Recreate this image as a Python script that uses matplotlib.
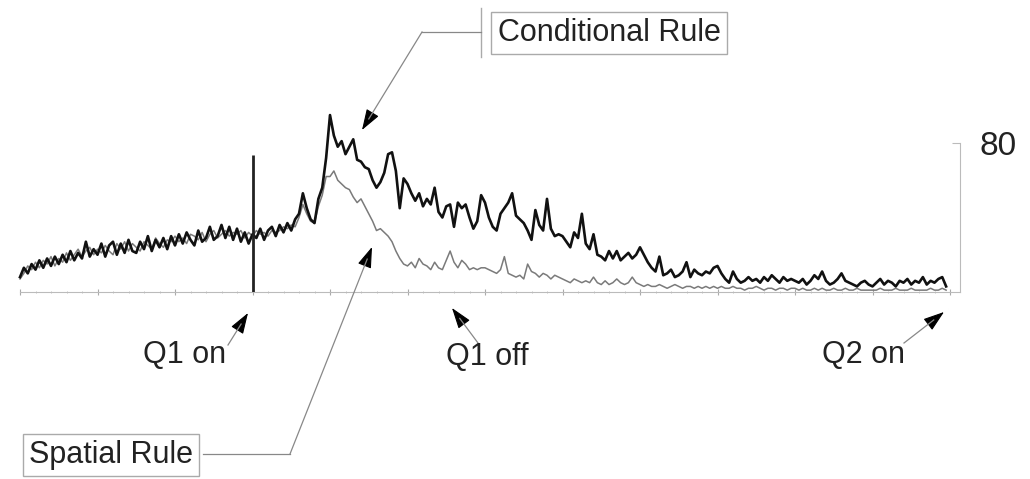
#---Conditional vs spatial rule activity trace with annotated events
import numpy as np
import matplotlib.pyplot as plt
from matplotlib.lines import Line2D

plt.rcParams['font.family'] = ['Liberation Sans', 'DejaVu Sans']

#---Data: one value every half step, one row per major tick interval
conditional_rule = [
    8, 13, 10, 15, 12, 17, 13, 18, 14, 19, 15, 20, 16, 22, 17, 21, 18, 27, 19, 23,
    20, 26, 19, 25, 27, 20, 26, 21, 28, 22, 21, 27, 23, 30, 22, 28, 24, 29, 23, 30,
    25, 31, 26, 32, 28, 25, 33, 27, 29, 35, 28, 30, 36, 29, 35, 28, 34, 27, 32, 26,
    31, 29, 34, 28, 33, 35, 30, 36, 32, 37, 33, 39, 42, 53, 45, 39, 37, 50, 56, 72,
    95, 84, 78, 81, 74, 78, 82, 71, 70, 67, 66, 60, 56, 59, 64, 74, 75, 65, 45, 61,
    58, 53, 49, 53, 46, 50, 47, 56, 43, 40, 46, 47, 35, 48, 45, 47, 40, 34, 38, 52,
    48, 40, 35, 33, 42, 45, 48, 53, 41, 39, 37, 33, 28, 44, 36, 33, 50, 34, 30, 31,
    30, 27, 24, 32, 29, 42, 26, 23, 31, 20, 19, 17, 22, 18, 22, 17, 19, 21, 18, 20,
    24, 20, 16, 13, 11, 19, 9, 10, 12, 8, 9, 11, 16, 8, 12, 10, 9, 11, 10, 13,
    14, 10, 7, 5, 11, 7, 5, 6, 8, 6, 7, 5, 8, 6, 9, 7, 5, 8, 6, 7,
    6, 5, 7, 4, 6, 9, 7, 11, 6, 4, 5, 7, 10, 6, 5, 4, 3, 5, 6, 4,
    3, 5, 7, 4, 6, 5, 3, 6, 5, 7, 4, 6, 5, 8, 4, 6, 5, 7, 8, 3,
]
spatial_rule = [
    7, 10, 14, 12, 16, 13, 17, 15, 19, 14, 18, 16, 21, 17, 20, 23, 19, 22, 24, 20,
    23, 21, 25, 22, 20, 26, 23, 27, 22, 26, 24, 22, 27, 25, 23, 29, 26, 24, 28, 27,
    30, 27, 29, 26, 31, 30, 28, 32, 27, 31, 33, 29, 31, 33, 30, 32, 31, 33, 29, 32,
    30, 33, 31, 32, 30, 33, 32, 33, 35, 34, 36, 35, 40, 47, 42, 38, 37, 46, 52, 62,
    62, 65, 60, 58, 56, 55, 51, 48, 50, 46, 42, 38, 33, 34, 32, 30, 27, 22, 18, 15,
    14, 16, 13, 18, 15, 14, 12, 16, 13, 12, 17, 22, 16, 13, 17, 15, 12, 13, 12, 13,
    13, 12, 11, 10, 12, 19, 10, 9, 8, 9, 7, 15, 11, 10, 8, 10, 9, 7, 9, 8,
    7, 6, 5, 7, 6, 5, 6, 5, 8, 5, 4, 6, 4, 5, 7, 5, 4, 5, 8, 5,
    4, 3, 4, 3, 3, 4, 3, 2, 3, 4, 3, 2, 3, 3, 2, 3, 2, 3, 2, 3,
    2, 3, 2, 2, 3, 2, 2, 1, 2, 2, 3, 2, 1, 2, 2, 1, 2, 2, 1, 2,
    2, 1, 2, 1, 1, 2, 1, 2, 1, 1, 2, 1, 1, 2, 1, 1, 2, 1, 1, 1,
    1, 1, 2, 1, 1, 1, 2, 1, 1, 1, 2, 1, 1, 1, 1, 2, 1, 1, 2, 1,
]
time = np.arange(len(conditional_rule)) * 0.5

q1_on = 30
q1_on_height = 73.5
y_label = 80

#---Figure in pixel terms: 1030 x 479
W, H = 1030, 479
fig = plt.figure(figsize=(W / 100, H / 100), dpi=100)


def fpx(x, y):
    # pixel position (from top-left) -> figure fraction
    return (x / W, 1 - y / H)


ax = fig.add_axes([20 / W, 1 - 292 / H, 940 / W, 192 / H])
ax.set_xlim(0, 940 / 7.75)
ax.set_ylim(0, 192 / 1.8625)

ax.plot(time, spatial_rule, color='#7a7a7a', lw=1.1, zorder=2, clip_on=False)
ax.plot(time, conditional_rule, color='#111111', lw=1.9, zorder=3, clip_on=False)
ax.vlines(q1_on, 0, q1_on_height, color='#222222', lw=2, zorder=4)

#---Axes styling
for s in ['top', 'left']:
    ax.spines[s].set_visible(False)
ax.spines['bottom'].set_color('#bbbbbb')
ax.spines['right'].set_color('#bbbbbb')
ax.spines['right'].set_bounds(0, y_label)
ax.set_xticks(np.arange(0, 121, 10))
ax.set_xticks(np.arange(0, 121, 2), minor=True)
ax.set_xticklabels([])
ax.tick_params(axis='x', which='major', direction='inout', length=5, color='#aaaaaa')
ax.tick_params(axis='x', which='minor', direction='inout', length=2, color='#bbbbbb')
ax.yaxis.tick_right()
ax.set_yticks([y_label])
ax.set_yticklabels([str(y_label)], va='center_baseline')
ax.tick_params(axis='y', direction='in', length=6, color='#bbbbbb', pad=14,
               labelsize=24, labelcolor='#222222')

#---Annotations
txt_kw = dict(fontsize=22, color='#222222', ha='center', va='center')
box_kw = dict(boxstyle='square,pad=0.2', fc='white', ec='#aaaaaa', lw=1)


def arrow(tail, tip):
    # gray leader with a black head, both ends in figure pixels
    tail, tip = np.array(tail, float), np.array(tip, float)
    back = tip + 13 * (tail - tip) / np.hypot(*(tail - tip))
    fig.add_artist(Line2D([tail[0] / W, back[0] / W], [1 - tail[1] / H, 1 - back[1] / H],
                          color='#888888', lw=0.9))
    ax.annotate('', xy=fpx(*tip), xycoords='figure fraction',
                xytext=fpx(*back), textcoords='figure fraction',
                arrowprops=dict(arrowstyle='-|>,head_length=0.65,head_width=0.22',
                                color='black', lw=0.8, mutation_scale=20,
                                shrinkA=0, shrinkB=0), annotation_clip=False)


fig.text(*fpx(609, 33), 'Conditional Rule', bbox=box_kw, **txt_kw)
fig.add_artist(Line2D([481 / W, 481 / W], [1 - 8 / H, 1 - 57 / H], color='#aaaaaa', lw=1))
fig.add_artist(Line2D([481 / W, 422 / W], [1 - 32 / H, 1 - 32 / H], color='#888888', lw=0.9))
arrow((422, 32), (362, 130))

fig.text(*fpx(111, 455), 'Spatial Rule', bbox=box_kw, **txt_kw)
fig.add_artist(Line2D([203 / W, 290 / W], [1 - 454 / H, 1 - 454 / H], color='#888888', lw=0.9))
arrow((290, 454), (372, 247))

fig.text(*fpx(185, 355), 'Q1 on', **txt_kw)
arrow((228, 345), (248, 313))
fig.text(*fpx(487, 357), 'Q1 off', **txt_kw)
arrow((478, 343), (452, 308))
fig.text(*fpx(864, 355), 'Q2 on', **txt_kw)
arrow((904, 343), (944, 312))

plt.savefig('out.png', dpi=100)
